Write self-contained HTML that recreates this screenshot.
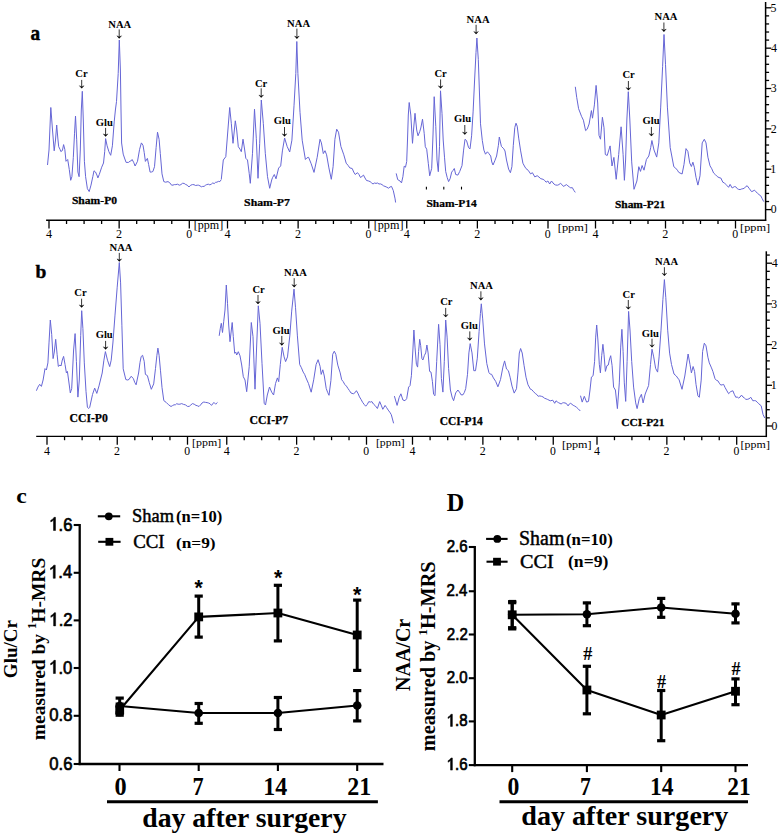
<!DOCTYPE html>
<html><head><meta charset="utf-8"><style>
html,body{margin:0;padding:0;background:#fff;}
svg{display:block;}
text{fill:#000;}
</style></head><body>
<svg width="784" height="839" viewBox="0 0 784 839">
<rect width="784" height="839" fill="#fff"/>
<polyline points="47.5,165.0 49.0,150.0 50.8,107.5 52.5,130.0 54.2,150.8 55.5,140.0 56.7,125.0 57.8,138.0 58.7,146.7 60.0,149.3 60.8,151.5 61.8,151.1 62.5,150.0 63.6,144.6 64.8,149.3 66.0,161.3 67.7,159.5 69.3,169.6 70.7,180.3 71.9,176.7 73.3,157.7 74.5,133.8 75.5,116.0 76.7,139.8 77.9,172.0 79.1,176.7 80.3,150.0 81.3,110.0 82.3,91.3 83.3,120.0 84.4,161.3 85.6,176.7 87.4,188.7 89.2,191.6 91.0,185.1 92.8,176.7 94.0,170.8 95.5,172.0 96.9,175.0 97.9,177.9 99.3,174.4 101.7,167.2 103.5,163.0 104.7,151.7 105.6,138.6 107.1,145.8 108.9,151.7 110.7,155.3 112.4,145.8 114.2,121.9 115.4,110.0 116.5,101.5 118.2,73.6 119.3,40.0 120.4,70.0 121.0,110.0 121.6,143.0 123.2,154.1 124.5,158.0 126.1,162.4 128.5,162.4 130.0,161.2 131.5,160.6 132.1,159.5 133.6,162.2 135.1,166.0 137.5,161.3 139.6,149.3 141.4,142.9 143.0,145.3 144.2,152.4 145.4,161.4 147.4,158.4 148.6,164.4 150.1,172.1 151.5,172.0 152.9,171.5 154.5,166.7 156.1,147.7 157.5,132.2 159.1,139.3 160.3,153.6 162.0,173.9 163.8,181.6 165.6,182.2 168.0,181.6 169.8,182.8 171.6,185.2 173.0,185.1 174.4,184.6 175.8,184.6 177.6,184.2 179.3,185.2 180.9,184.6 182.5,183.3 184.1,183.4 185.7,184.5 187.3,185.2 188.9,187.0 190.7,185.2 192.4,184.6 194.0,184.7 195.6,185.5 197.2,185.2 198.6,185.2 200.0,185.9 201.4,186.8 202.7,186.4 204.1,186.4 205.4,185.3 206.7,184.6 208.3,184.2 209.9,184.9 211.5,184.0 212.8,182.9 214.2,183.6 215.6,182.3 216.9,182.2 218.4,181.4 219.9,181.6 221.3,179.5" fill="none" stroke="#6666d6" stroke-width="1" stroke-linejoin="round"/>
<polyline points="221.3,179.2 223.3,160.0 225.8,156.7 227.5,135.0 229.7,107.5 231.3,123.3 233.0,143.3 235.3,120.8 236.7,130.0 238.3,146.7 240.0,149.2 241.3,151.7 243.0,139.2 244.7,150.0 245.8,158.3 247.5,160.0 249.2,173.3 250.3,183.3 252.5,153.3 254.5,109.2 256.3,138.3 258.0,178.3 259.7,143.3 261.3,100.0 263.3,123.3 265.3,153.3 267.5,176.7 269.7,188.3 271.7,180.0 272.5,177.7 274.3,174.5 276.0,178.8 278.6,168.1 280.7,165.9 282.4,150.9 284.6,138.0 287.2,146.6 289.7,152.0 291.9,140.2 294.0,105.8 295.8,73.6 296.8,41.5 297.9,73.6 300.0,112.3 302.2,140.2 305.4,159.5 307.0,157.8 308.6,157.3 311.2,163.8 314.0,172.4 317.2,157.3 320.0,139.3 321.4,142.9 323.3,153.6 325.0,150.7 326.6,154.8 328.9,167.9 331.3,179.3 333.1,166.7 334.9,139.3 336.7,129.2 338.5,132.2 340.9,146.5 343.8,154.8 346.2,163.2 348.0,165.3 349.8,167.9 352.2,168.5 353.7,172.0 355.2,174.5 357.5,172.7 359.0,174.6 360.5,177.5 362.0,176.4 363.5,175.1 365.0,178.0 366.5,180.5 368.3,180.9 370.1,181.6 371.6,182.9 373.0,184.0 374.5,183.0 376.0,183.4 377.5,183.0 379.0,184.0 380.5,183.9 382.0,184.6 383.5,185.8 385.0,186.4 386.8,187.2 388.5,188.2 390.0,187.0 391.5,186.4 393.3,190.6 395.1,198.9 395.6,202.5" fill="none" stroke="#6666d6" stroke-width="1" stroke-linejoin="round"/>
<polyline points="396.2,173.4 397.7,179.6 400.0,181.0 401.5,182.9 402.9,176.7 404.2,166.2 405.5,167.2 406.7,161.5 407.5,140.0 408.3,115.0 409.2,102.5 410.8,115.0 412.5,143.3 413.7,128.0 415.0,113.3 416.7,130.0 418.0,135.8 419.7,131.7 420.8,128.0 422.5,119.2 424.2,133.3 425.3,146.7 426.7,149.2 428.3,163.3 429.7,175.8 431.7,168.3 433.0,135.0 434.2,96.7 435.8,126.7 437.0,160.0 438.3,171.7 439.5,146.7 440.5,90.8 442.0,113.3 443.2,140.0 444.5,157.2 445.7,171.5 447.2,177.5 448.6,181.6 450.1,178.7 451.7,172.1 453.1,170.3 454.3,168.5 455.7,174.5 457.9,175.1 459.7,171.5 462.0,165.6 463.6,150.1 465.0,139.3 466.5,140.5 468.6,147.7 470.0,148.9 471.6,135.8 473.1,111.9 474.6,80.0 476.0,52.4 476.9,38.0 478.3,59.5 479.2,85.0 480.5,123.8 482.3,140.5 483.9,150.1 485.5,154.2 487.4,151.8 488.9,153.6 490.7,156.0 491.8,162.0 493.0,165.0 494.8,160.8 496.6,156.0 498.4,145.3 499.3,137.0 501.4,146.4 503.8,148.8 505.0,151.0 506.5,160.0 508.6,169.1 510.4,172.7 511.9,166.7 513.3,145.3 514.8,127.4 516.0,123.2 517.2,126.2 518.7,138.1 520.5,150.1 522.9,163.2 524.4,166.0 525.9,168.5 528.2,170.3 530.6,173.9 532.4,172.7 534.8,176.9 537.2,175.7 539.0,177.1 540.8,178.7 543.1,179.3 544.6,180.4 546.1,182.2 547.9,181.0 549.7,184.0 551.5,181.0 553.9,184.0 555.6,185.0 557.4,185.2 558.9,184.6 560.4,183.4 561.9,184.5 563.4,186.4 564.9,185.6 566.4,184.6 567.9,185.8 569.4,187.0 570.8,187.9 572.3,187.6 573.8,190.3 575.3,192.4" fill="none" stroke="#6666d6" stroke-width="1" stroke-linejoin="round"/>
<polyline points="575.3,86.8 576.7,97.3 578.6,108.7 581.5,116.3 583.4,120.2 585.6,130.6 587.2,129.2 589.1,124.0 591.4,110.6 592.5,118.2 594.4,104.9 596.1,85.4 597.7,103.0 599.0,135.4 600.5,139.2 602.4,117.3 604.0,127.8 605.3,154.5 607.2,155.5 610.1,145.9 612.0,166.0 613.9,157.4 616.2,179.3 618.7,154.5 621.1,126.8 623.1,154.5 624.4,180.3 625.6,160.0 626.9,119.0 628.3,91.7 629.8,119.0 631.7,161.9 634.0,189.3 636.9,181.0 638.8,166.7 640.5,171.4 642.1,165.5 644.0,170.2 646.4,159.5 648.8,156.0 650.7,147.6 651.9,140.5 654.0,150.0 656.7,157.1 658.8,142.9 660.7,107.1 662.6,66.7 664.0,34.5 665.5,64.3 667.4,107.1 670.2,147.6 673.8,166.7 675.6,168.1 677.4,170.2 678.7,172.3 680.0,173.0 682.1,174.0 684.0,164.4 686.0,148.6 687.9,151.5 689.7,162.9 691.4,166.5 692.9,162.2 694.3,167.2 696.0,177.3 697.9,185.1 700.0,175.8 702.2,142.9 704.3,139.3 706.0,142.9 707.9,157.2 710.0,165.8 711.8,168.8 713.6,173.0 715.4,174.6 717.2,176.5 719.0,177.6 720.8,178.0 722.9,182.3 724.3,182.8 725.8,184.4 727.2,185.8 728.6,187.3 730.1,184.4 732.2,188.0 734.4,186.6 735.8,186.8 737.3,188.7 738.7,189.4 740.1,189.6 741.5,189.0 742.9,188.7 744.3,188.3 745.8,186.5 747.2,185.8 749.4,188.7 751.5,191.6 753.0,191.1 754.4,190.1 755.8,191.7 757.3,193.0 759.0,194.6 760.8,195.9 762.2,198.7 763.7,201.6" fill="none" stroke="#6666d6" stroke-width="1" stroke-linejoin="round"/>
<polyline points="36.4,390.7 37.9,387.1 39.7,384.3 41.4,386.4 43.1,380.0 45.0,368.6 46.4,370.0 47.9,362.9 49.0,342.9 50.3,320.0 51.7,334.3 53.1,358.6 54.3,352.0 55.7,339.3 57.1,354.3 58.3,366.4 60.0,365.0 61.0,366.0 62.3,360.0 63.6,356.4 65.0,364.3 66.4,372.9 67.4,371.4 68.6,380.0 70.3,392.9 71.7,388.6 73.6,350.0 75.1,333.6 76.4,361.4 77.9,397.1 79.3,380.0 80.7,335.7 81.7,310.7 82.9,328.6 84.3,362.9 86.0,391.4 87.4,407.1 88.6,408.5 89.7,407.4 92.5,394.5 94.7,388.1 96.8,393.4 99.0,385.9 102.2,373.0 103.9,360.2 105.4,351.6 107.5,360.2 109.7,366.6 111.2,360.2 112.9,343.0 115.0,315.1 117.2,287.2 119.3,262.5 120.6,282.9 121.9,325.8 123.2,368.8 125.8,379.5 127.4,380.0 129.0,379.5 131.1,376.3 133.3,378.4 134.7,382.3 136.1,384.8 138.6,373.0 140.0,362.4 141.2,356.5 142.6,355.3 144.2,361.3 145.4,374.4 147.4,375.6 149.3,382.7 151.3,389.3 153.7,383.9 155.5,368.4 156.9,355.3 157.9,348.1 159.1,355.3 160.5,370.8 162.0,387.5 163.8,400.6 166.2,402.4 168.6,404.8 171.0,406.5 172.5,405.6 174.0,404.8 175.4,404.8 176.7,403.7 178.1,404.2 179.9,404.2 181.7,403.6 183.5,404.4 185.3,404.8 187.7,406.5 189.3,406.3 190.8,405.0 192.4,403.6 194.2,404.2 196.0,405.4 197.5,405.8 199.0,406.5 200.5,405.0 202.0,403.0 203.8,402.0 205.6,402.4 207.1,402.6 208.5,403.0 210.0,403.7 211.5,405.4 213.9,402.4 215.7,404.2 217.5,402.4" fill="none" stroke="#6666d6" stroke-width="1" stroke-linejoin="round"/>
<polyline points="219.2,335.8 220.3,328.3 221.3,323.3 222.5,332.5 223.7,321.7 225.0,310.0 226.3,285.0 227.5,303.3 228.7,325.0 230.0,341.7 232.2,322.5 233.3,336.7 234.7,353.3 235.7,352.0 236.7,355.0 238.3,351.7 240.0,355.8 241.7,365.0 243.3,376.7 245.0,380.0 246.7,391.7 249.2,366.7 251.3,322.5 253.0,336.7 255.0,389.2 256.7,345.0 258.3,305.8 260.0,323.3 262.0,363.3 264.2,403.3 265.5,405.0 267.3,395.0 269.5,387.0 271.7,392.2 273.6,395.0 275.5,383.6 277.4,377.9 278.7,381.7 280.3,364.5 282.2,347.3 284.1,356.9 285.6,361.6 287.5,356.9 289.8,335.9 291.7,311.1 294.0,289.1 295.5,307.3 297.4,335.9 299.7,364.5 301.4,367.7 303.2,372.1 304.6,374.3 306.0,377.9 308.5,383.6 311.2,392.2 313.7,379.8 316.1,364.5 318.1,359.7 320.1,366.4 321.2,374.4 322.8,369.8 324.3,376.0 326.2,388.4 327.6,392.3 329.0,395.3 330.9,380.6 332.7,354.3 334.3,351.2 335.8,354.3 337.8,365.1 340.2,372.9 341.7,379.8 343.2,381.6 344.8,384.5 346.4,386.1 347.9,388.4 349.4,390.5 351.0,393.0 353.3,393.8 354.9,392.8 356.4,390.7 357.9,393.2 359.5,396.9 361.1,399.5 362.6,402.3 364.1,404.3 365.7,406.2 367.2,404.5 368.8,401.6 370.4,402.1 371.9,401.6 373.4,404.0 375.0,405.4 377.4,408.5 379.7,401.6 381.2,405.1 382.8,409.3 385.1,405.4 386.6,407.6 388.2,410.1 389.8,412.2 391.3,414.7 393.6,423.3" fill="none" stroke="#6666d6" stroke-width="1" stroke-linejoin="round"/>
<polyline points="394.4,396.1 397.1,405.4 399.1,397.7 400.9,393.8 402.9,400.0 405.0,400.7 406.7,398.6 408.6,387.1 410.0,385.7 411.4,375.7 412.9,350.0 413.9,330.0 415.0,347.1 416.4,364.3 417.6,367.1 418.6,351.4 419.7,339.3 420.7,345.7 421.9,358.6 422.9,360.0 424.3,355.7 425.7,352.9 426.9,345.0 428.1,352.9 429.6,371.4 431.0,372.1 432.4,381.4 433.6,394.3 435.0,395.7 436.7,361.4 438.6,324.3 440.0,344.3 441.4,378.6 442.9,392.1 444.3,361.4 445.7,320.0 447.1,337.1 448.6,368.6 450.4,390.0 452.1,397.1 453.6,400.7 455.7,392.9 457.9,390.0 460.0,392.9 461.0,394.8 463.0,394.8 464.4,392.3 465.7,388.6 467.5,374.3 468.9,352.9 470.2,343.6 472.0,352.9 473.8,370.7 475.5,370.7 477.3,358.2 479.1,331.4 480.4,313.6 481.3,303.8 482.7,318.9 484.5,343.9 486.8,363.6 488.9,372.5 490.2,374.1 491.6,374.3 493.4,377.9 495.7,381.4 497.9,386.8 500.5,379.6 502.9,367.1 504.6,360.9 506.5,369.0 508.4,370.7 510.1,377.2 512.0,386.1 514.2,393.1 516.5,388.7 518.0,372.1 519.3,353.0 520.6,348.5 522.2,353.0 524.1,365.7 526.0,377.2 528.0,384.8 530.5,389.3 531.8,389.7 533.1,391.2 535.6,393.8 536.9,394.6 538.2,396.3 539.8,395.9 541.4,396.3 543.0,396.9 544.5,398.2 546.1,398.8 547.7,399.5 550.3,400.8 552.8,400.2 554.7,403.3 556.0,400.8 557.3,401.9 558.6,402.7 561.1,404.0 562.4,403.0 563.7,402.7 566.2,403.3 568.1,405.9 569.4,403.9 570.7,403.3 573.2,405.3 574.8,406.1 576.4,407.2 578.3,408.9 580.3,411.0" fill="none" stroke="#6666d6" stroke-width="1" stroke-linejoin="round"/>
<polyline points="580.5,395.7 582.2,402.1 584.3,396.3 586.6,402.1 588.5,401.4 590.0,390.0 591.4,377.1 593.1,375.7 594.6,361.4 595.7,337.1 596.7,325.0 597.9,340.0 599.3,364.3 600.4,372.9 601.7,355.7 602.9,344.3 604.0,354.3 605.4,371.4 606.9,365.7 608.3,365.0 609.3,360.0 610.7,355.7 612.1,365.7 613.6,387.1 615.4,390.0 617.4,408.6 619.3,382.9 620.7,347.1 621.9,329.3 623.1,351.4 624.3,382.9 625.7,401.4 627.1,361.4 628.6,311.4 630.0,330.0 631.7,361.4 633.6,387.1 635.7,402.9 637.1,408.6 639.3,398.6 641.4,394.3 643.1,402.9 645.2,394.0 648.6,385.5 650.5,364.5 652.0,349.2 653.7,356.9 655.6,368.3 657.6,372.1 659.1,356.9 661.0,330.2 662.9,299.6 664.4,279.6 665.8,297.7 667.7,330.2 669.6,353.1 671.5,364.5 674.0,374.0 676.3,376.0 677.7,378.0 679.1,379.8 682.0,389.3 684.8,376.0 688.1,354.0 690.0,364.5 691.4,372.9 693.1,366.5 694.6,371.5 696.0,384.4 697.9,395.8 699.3,397.3 701.2,380.1 702.6,351.5 704.3,343.2 706.0,345.8 707.9,357.2 709.3,362.9 711.5,367.9 712.9,371.5 715.0,378.7 716.5,380.4 717.9,380.8 719.3,383.2 720.8,385.1 722.2,384.8 723.6,384.4 725.0,387.4 726.5,390.1 728.6,393.7 730.8,391.5 732.9,390.8 734.3,394.3 735.8,397.3 737.2,397.0 738.6,398.0 740.0,397.1 741.5,395.1 743.0,397.0 744.4,398.0 745.8,399.3 747.2,399.4 749.0,398.8 750.8,397.3 752.9,400.8 754.3,400.6 755.8,400.8 757.2,402.1 758.7,403.7 761.2,405.8 763.0,414.4 764.7,418.0" fill="none" stroke="#6666d6" stroke-width="1" stroke-linejoin="round"/>
<line x1="46.1" y1="220.2" x2="766.2" y2="220.2" stroke="#000" stroke-width="1.4"/>
<line x1="49.00" y1="220.2" x2="49.00" y2="228.5" stroke="#000" stroke-width="1.3"/>
<line x1="66.54" y1="220.2" x2="66.54" y2="224.0" stroke="#000" stroke-width="1.3"/>
<line x1="84.08" y1="220.2" x2="84.08" y2="224.0" stroke="#000" stroke-width="1.3"/>
<line x1="101.61" y1="220.2" x2="101.61" y2="224.0" stroke="#000" stroke-width="1.3"/>
<line x1="119.15" y1="220.2" x2="119.15" y2="228.5" stroke="#000" stroke-width="1.3"/>
<line x1="136.69" y1="220.2" x2="136.69" y2="224.0" stroke="#000" stroke-width="1.3"/>
<line x1="154.23" y1="220.2" x2="154.23" y2="224.0" stroke="#000" stroke-width="1.3"/>
<line x1="171.76" y1="220.2" x2="171.76" y2="224.0" stroke="#000" stroke-width="1.3"/>
<line x1="189.30" y1="220.2" x2="189.30" y2="228.5" stroke="#000" stroke-width="1.3"/>
<text x="46.06" y="238.30" font-family="Liberation Serif" font-weight="normal" font-size="12.17" >4</text>
<text x="115.91" y="238.30" font-family="Liberation Serif" font-weight="normal" font-size="12.08" >2</text>
<text x="186.16" y="238.18" font-family="Liberation Serif" font-weight="normal" font-size="11.85" >0</text>
<text transform="translate(193.69 229.44) scale(1.043 1)" font-family="Liberation Serif" font-weight="normal" font-size="11.57" >[ppm]</text>
<line x1="227.50" y1="220.2" x2="227.50" y2="228.5" stroke="#000" stroke-width="1.3"/>
<line x1="245.16" y1="220.2" x2="245.16" y2="224.0" stroke="#000" stroke-width="1.3"/>
<line x1="262.81" y1="220.2" x2="262.81" y2="224.0" stroke="#000" stroke-width="1.3"/>
<line x1="280.47" y1="220.2" x2="280.47" y2="224.0" stroke="#000" stroke-width="1.3"/>
<line x1="298.12" y1="220.2" x2="298.12" y2="228.5" stroke="#000" stroke-width="1.3"/>
<line x1="315.78" y1="220.2" x2="315.78" y2="224.0" stroke="#000" stroke-width="1.3"/>
<line x1="333.44" y1="220.2" x2="333.44" y2="224.0" stroke="#000" stroke-width="1.3"/>
<line x1="351.09" y1="220.2" x2="351.09" y2="224.0" stroke="#000" stroke-width="1.3"/>
<line x1="368.75" y1="220.2" x2="368.75" y2="228.5" stroke="#000" stroke-width="1.3"/>
<text x="224.56" y="238.30" font-family="Liberation Serif" font-weight="normal" font-size="12.17" >4</text>
<text x="294.88" y="238.30" font-family="Liberation Serif" font-weight="normal" font-size="12.08" >2</text>
<text x="365.61" y="238.18" font-family="Liberation Serif" font-weight="normal" font-size="11.85" >0</text>
<text transform="translate(373.68 229.44) scale(1.054 1)" font-family="Liberation Serif" font-weight="normal" font-size="11.57" >[ppm]</text>
<line x1="406.75" y1="220.2" x2="406.75" y2="228.5" stroke="#000" stroke-width="1.3"/>
<line x1="424.41" y1="220.2" x2="424.41" y2="224.0" stroke="#000" stroke-width="1.3"/>
<line x1="442.06" y1="220.2" x2="442.06" y2="224.0" stroke="#000" stroke-width="1.3"/>
<line x1="459.72" y1="220.2" x2="459.72" y2="224.0" stroke="#000" stroke-width="1.3"/>
<line x1="477.38" y1="220.2" x2="477.38" y2="228.5" stroke="#000" stroke-width="1.3"/>
<line x1="495.03" y1="220.2" x2="495.03" y2="224.0" stroke="#000" stroke-width="1.3"/>
<line x1="512.69" y1="220.2" x2="512.69" y2="224.0" stroke="#000" stroke-width="1.3"/>
<line x1="530.34" y1="220.2" x2="530.34" y2="224.0" stroke="#000" stroke-width="1.3"/>
<line x1="548.00" y1="220.2" x2="548.00" y2="228.5" stroke="#000" stroke-width="1.3"/>
<text x="403.81" y="238.30" font-family="Liberation Serif" font-weight="normal" font-size="12.17" >4</text>
<text x="474.13" y="238.30" font-family="Liberation Serif" font-weight="normal" font-size="12.08" >2</text>
<text x="544.86" y="238.18" font-family="Liberation Serif" font-weight="normal" font-size="11.85" >0</text>
<text transform="translate(557.77 231.41) scale(1.101 1)" font-family="Liberation Serif" font-weight="normal" font-size="11.24" >[ppm]</text>
<line x1="595.50" y1="220.2" x2="595.50" y2="228.5" stroke="#000" stroke-width="1.3"/>
<line x1="613.00" y1="220.2" x2="613.00" y2="224.0" stroke="#000" stroke-width="1.3"/>
<line x1="630.50" y1="220.2" x2="630.50" y2="224.0" stroke="#000" stroke-width="1.3"/>
<line x1="648.00" y1="220.2" x2="648.00" y2="224.0" stroke="#000" stroke-width="1.3"/>
<line x1="665.50" y1="220.2" x2="665.50" y2="228.5" stroke="#000" stroke-width="1.3"/>
<line x1="683.00" y1="220.2" x2="683.00" y2="224.0" stroke="#000" stroke-width="1.3"/>
<line x1="700.50" y1="220.2" x2="700.50" y2="224.0" stroke="#000" stroke-width="1.3"/>
<line x1="718.00" y1="220.2" x2="718.00" y2="224.0" stroke="#000" stroke-width="1.3"/>
<line x1="735.50" y1="220.2" x2="735.50" y2="228.5" stroke="#000" stroke-width="1.3"/>
<text x="592.56" y="238.30" font-family="Liberation Serif" font-weight="normal" font-size="12.17" >4</text>
<text x="662.26" y="238.30" font-family="Liberation Serif" font-weight="normal" font-size="12.08" >2</text>
<text x="732.36" y="238.18" font-family="Liberation Serif" font-weight="normal" font-size="11.85" >0</text>
<text transform="translate(740.08 231.41) scale(1.097 1)" font-family="Liberation Serif" font-weight="normal" font-size="11.24" >[ppm]</text>
<line x1="36.2" y1="436.4" x2="766.6" y2="436.4" stroke="#000" stroke-width="1.4"/>
<line x1="47.00" y1="436.4" x2="47.00" y2="444.7" stroke="#000" stroke-width="1.3"/>
<line x1="64.56" y1="436.4" x2="64.56" y2="440.2" stroke="#000" stroke-width="1.3"/>
<line x1="82.12" y1="436.4" x2="82.12" y2="440.2" stroke="#000" stroke-width="1.3"/>
<line x1="99.69" y1="436.4" x2="99.69" y2="440.2" stroke="#000" stroke-width="1.3"/>
<line x1="117.25" y1="436.4" x2="117.25" y2="444.7" stroke="#000" stroke-width="1.3"/>
<line x1="134.81" y1="436.4" x2="134.81" y2="440.2" stroke="#000" stroke-width="1.3"/>
<line x1="152.38" y1="436.4" x2="152.38" y2="440.2" stroke="#000" stroke-width="1.3"/>
<line x1="169.94" y1="436.4" x2="169.94" y2="440.2" stroke="#000" stroke-width="1.3"/>
<line x1="187.50" y1="436.4" x2="187.50" y2="444.7" stroke="#000" stroke-width="1.3"/>
<text x="44.06" y="454.80" font-family="Liberation Serif" font-weight="normal" font-size="12.02" >4</text>
<text x="114.01" y="454.80" font-family="Liberation Serif" font-weight="normal" font-size="11.92" >2</text>
<text x="184.36" y="454.68" font-family="Liberation Serif" font-weight="normal" font-size="11.70" >0</text>
<text transform="translate(192.10 445.91) scale(1.062 1)" font-family="Liberation Serif" font-weight="normal" font-size="11.24" >[ppm]</text>
<line x1="226.75" y1="436.4" x2="226.75" y2="444.7" stroke="#000" stroke-width="1.3"/>
<line x1="244.22" y1="436.4" x2="244.22" y2="440.2" stroke="#000" stroke-width="1.3"/>
<line x1="261.69" y1="436.4" x2="261.69" y2="440.2" stroke="#000" stroke-width="1.3"/>
<line x1="279.16" y1="436.4" x2="279.16" y2="440.2" stroke="#000" stroke-width="1.3"/>
<line x1="296.62" y1="436.4" x2="296.62" y2="444.7" stroke="#000" stroke-width="1.3"/>
<line x1="314.09" y1="436.4" x2="314.09" y2="440.2" stroke="#000" stroke-width="1.3"/>
<line x1="331.56" y1="436.4" x2="331.56" y2="440.2" stroke="#000" stroke-width="1.3"/>
<line x1="349.03" y1="436.4" x2="349.03" y2="440.2" stroke="#000" stroke-width="1.3"/>
<line x1="366.50" y1="436.4" x2="366.50" y2="444.7" stroke="#000" stroke-width="1.3"/>
<text x="223.81" y="454.80" font-family="Liberation Serif" font-weight="normal" font-size="12.02" >4</text>
<text x="293.39" y="454.80" font-family="Liberation Serif" font-weight="normal" font-size="11.92" >2</text>
<text x="363.36" y="454.68" font-family="Liberation Serif" font-weight="normal" font-size="11.70" >0</text>
<text transform="translate(375.91 445.91) scale(1.051 1)" font-family="Liberation Serif" font-weight="normal" font-size="11.24" >[ppm]</text>
<line x1="412.50" y1="436.4" x2="412.50" y2="444.7" stroke="#000" stroke-width="1.3"/>
<line x1="430.09" y1="436.4" x2="430.09" y2="440.2" stroke="#000" stroke-width="1.3"/>
<line x1="447.69" y1="436.4" x2="447.69" y2="440.2" stroke="#000" stroke-width="1.3"/>
<line x1="465.28" y1="436.4" x2="465.28" y2="440.2" stroke="#000" stroke-width="1.3"/>
<line x1="482.88" y1="436.4" x2="482.88" y2="444.7" stroke="#000" stroke-width="1.3"/>
<line x1="500.47" y1="436.4" x2="500.47" y2="440.2" stroke="#000" stroke-width="1.3"/>
<line x1="518.06" y1="436.4" x2="518.06" y2="440.2" stroke="#000" stroke-width="1.3"/>
<line x1="535.66" y1="436.4" x2="535.66" y2="440.2" stroke="#000" stroke-width="1.3"/>
<line x1="553.25" y1="436.4" x2="553.25" y2="444.7" stroke="#000" stroke-width="1.3"/>
<text x="409.56" y="454.80" font-family="Liberation Serif" font-weight="normal" font-size="12.02" >4</text>
<text x="479.64" y="454.80" font-family="Liberation Serif" font-weight="normal" font-size="11.92" >2</text>
<text x="550.11" y="454.68" font-family="Liberation Serif" font-weight="normal" font-size="11.70" >0</text>
<text transform="translate(561.88 447.51) scale(1.085 1)" font-family="Liberation Serif" font-weight="normal" font-size="11.24" >[ppm]</text>
<line x1="597.00" y1="436.4" x2="597.00" y2="444.7" stroke="#000" stroke-width="1.3"/>
<line x1="614.46" y1="436.4" x2="614.46" y2="440.2" stroke="#000" stroke-width="1.3"/>
<line x1="631.92" y1="436.4" x2="631.92" y2="440.2" stroke="#000" stroke-width="1.3"/>
<line x1="649.39" y1="436.4" x2="649.39" y2="440.2" stroke="#000" stroke-width="1.3"/>
<line x1="666.85" y1="436.4" x2="666.85" y2="444.7" stroke="#000" stroke-width="1.3"/>
<line x1="684.31" y1="436.4" x2="684.31" y2="440.2" stroke="#000" stroke-width="1.3"/>
<line x1="701.78" y1="436.4" x2="701.78" y2="440.2" stroke="#000" stroke-width="1.3"/>
<line x1="719.24" y1="436.4" x2="719.24" y2="440.2" stroke="#000" stroke-width="1.3"/>
<line x1="736.70" y1="436.4" x2="736.70" y2="444.7" stroke="#000" stroke-width="1.3"/>
<text x="594.06" y="454.80" font-family="Liberation Serif" font-weight="normal" font-size="12.02" >4</text>
<text x="663.61" y="454.80" font-family="Liberation Serif" font-weight="normal" font-size="11.92" >2</text>
<text x="733.56" y="454.68" font-family="Liberation Serif" font-weight="normal" font-size="11.70" >0</text>
<text transform="translate(740.60 447.81) scale(1.066 1)" font-family="Liberation Serif" font-weight="normal" font-size="11.24" >[ppm]</text>
<line x1="765.6" y1="2.0" x2="765.6" y2="220.9" stroke="#000" stroke-width="1.5"/>
<line x1="765.6" y1="209.60" x2="771.3000000000001" y2="209.60" stroke="#000" stroke-width="1.3"/>
<text x="770.76" y="213.38" font-family="Liberation Serif" font-weight="normal" font-size="11.70" >0</text>
<line x1="765.6" y1="201.53" x2="769.1" y2="201.53" stroke="#000" stroke-width="1.3"/>
<line x1="765.6" y1="193.46" x2="769.1" y2="193.46" stroke="#000" stroke-width="1.3"/>
<line x1="765.6" y1="185.38" x2="769.1" y2="185.38" stroke="#000" stroke-width="1.3"/>
<line x1="765.6" y1="177.31" x2="769.1" y2="177.31" stroke="#000" stroke-width="1.3"/>
<line x1="765.6" y1="169.24" x2="771.3000000000001" y2="169.24" stroke="#000" stroke-width="1.3"/>
<text x="770.15" y="173.14" font-family="Liberation Serif" font-weight="normal" font-size="11.97" >1</text>
<line x1="765.6" y1="161.17" x2="769.1" y2="161.17" stroke="#000" stroke-width="1.3"/>
<line x1="765.6" y1="153.10" x2="769.1" y2="153.10" stroke="#000" stroke-width="1.3"/>
<line x1="765.6" y1="145.02" x2="769.1" y2="145.02" stroke="#000" stroke-width="1.3"/>
<line x1="765.6" y1="136.95" x2="769.1" y2="136.95" stroke="#000" stroke-width="1.3"/>
<line x1="765.6" y1="128.88" x2="771.3000000000001" y2="128.88" stroke="#000" stroke-width="1.3"/>
<text x="770.66" y="132.78" font-family="Liberation Serif" font-weight="normal" font-size="11.92" >2</text>
<line x1="765.6" y1="120.81" x2="769.1" y2="120.81" stroke="#000" stroke-width="1.3"/>
<line x1="765.6" y1="112.74" x2="769.1" y2="112.74" stroke="#000" stroke-width="1.3"/>
<line x1="765.6" y1="104.66" x2="769.1" y2="104.66" stroke="#000" stroke-width="1.3"/>
<line x1="765.6" y1="96.59" x2="769.1" y2="96.59" stroke="#000" stroke-width="1.3"/>
<line x1="765.6" y1="88.52" x2="771.3000000000001" y2="88.52" stroke="#000" stroke-width="1.3"/>
<text x="770.64" y="92.30" font-family="Liberation Serif" font-weight="normal" font-size="11.75" >3</text>
<line x1="765.6" y1="80.45" x2="769.1" y2="80.45" stroke="#000" stroke-width="1.3"/>
<line x1="765.6" y1="72.38" x2="769.1" y2="72.38" stroke="#000" stroke-width="1.3"/>
<line x1="765.6" y1="64.30" x2="769.1" y2="64.30" stroke="#000" stroke-width="1.3"/>
<line x1="765.6" y1="56.23" x2="769.1" y2="56.23" stroke="#000" stroke-width="1.3"/>
<line x1="765.6" y1="48.16" x2="771.3000000000001" y2="48.16" stroke="#000" stroke-width="1.3"/>
<text x="770.96" y="52.06" font-family="Liberation Serif" font-weight="normal" font-size="12.02" >4</text>
<line x1="765.6" y1="40.09" x2="769.1" y2="40.09" stroke="#000" stroke-width="1.3"/>
<line x1="765.6" y1="32.02" x2="769.1" y2="32.02" stroke="#000" stroke-width="1.3"/>
<line x1="765.6" y1="23.94" x2="769.1" y2="23.94" stroke="#000" stroke-width="1.3"/>
<line x1="765.6" y1="15.87" x2="769.1" y2="15.87" stroke="#000" stroke-width="1.3"/>
<line x1="765.6" y1="7.80" x2="771.3000000000001" y2="7.80" stroke="#000" stroke-width="1.3"/>
<text x="770.52" y="11.58" font-family="Liberation Serif" font-weight="normal" font-size="11.88" >5</text>
<line x1="766.3" y1="251.3" x2="766.3" y2="437.1" stroke="#000" stroke-width="1.5"/>
<line x1="766.3" y1="426.00" x2="772.0" y2="426.00" stroke="#000" stroke-width="1.3"/>
<text x="771.46" y="429.78" font-family="Liberation Serif" font-weight="normal" font-size="11.70" >0</text>
<line x1="766.3" y1="417.86" x2="769.8" y2="417.86" stroke="#000" stroke-width="1.3"/>
<line x1="766.3" y1="409.72" x2="769.8" y2="409.72" stroke="#000" stroke-width="1.3"/>
<line x1="766.3" y1="401.58" x2="769.8" y2="401.58" stroke="#000" stroke-width="1.3"/>
<line x1="766.3" y1="393.44" x2="769.8" y2="393.44" stroke="#000" stroke-width="1.3"/>
<line x1="766.3" y1="385.30" x2="772.0" y2="385.30" stroke="#000" stroke-width="1.3"/>
<text x="770.85" y="389.20" font-family="Liberation Serif" font-weight="normal" font-size="11.97" >1</text>
<line x1="766.3" y1="377.16" x2="769.8" y2="377.16" stroke="#000" stroke-width="1.3"/>
<line x1="766.3" y1="369.02" x2="769.8" y2="369.02" stroke="#000" stroke-width="1.3"/>
<line x1="766.3" y1="360.88" x2="769.8" y2="360.88" stroke="#000" stroke-width="1.3"/>
<line x1="766.3" y1="352.74" x2="769.8" y2="352.74" stroke="#000" stroke-width="1.3"/>
<line x1="766.3" y1="344.60" x2="772.0" y2="344.60" stroke="#000" stroke-width="1.3"/>
<text x="771.36" y="348.50" font-family="Liberation Serif" font-weight="normal" font-size="11.92" >2</text>
<line x1="766.3" y1="336.46" x2="769.8" y2="336.46" stroke="#000" stroke-width="1.3"/>
<line x1="766.3" y1="328.32" x2="769.8" y2="328.32" stroke="#000" stroke-width="1.3"/>
<line x1="766.3" y1="320.18" x2="769.8" y2="320.18" stroke="#000" stroke-width="1.3"/>
<line x1="766.3" y1="312.04" x2="769.8" y2="312.04" stroke="#000" stroke-width="1.3"/>
<line x1="766.3" y1="303.90" x2="772.0" y2="303.90" stroke="#000" stroke-width="1.3"/>
<text x="771.34" y="307.68" font-family="Liberation Serif" font-weight="normal" font-size="11.75" >3</text>
<line x1="766.3" y1="295.76" x2="769.8" y2="295.76" stroke="#000" stroke-width="1.3"/>
<line x1="766.3" y1="287.62" x2="769.8" y2="287.62" stroke="#000" stroke-width="1.3"/>
<line x1="766.3" y1="279.48" x2="769.8" y2="279.48" stroke="#000" stroke-width="1.3"/>
<line x1="766.3" y1="271.34" x2="769.8" y2="271.34" stroke="#000" stroke-width="1.3"/>
<line x1="766.3" y1="263.20" x2="772.0" y2="263.20" stroke="#000" stroke-width="1.3"/>
<text x="771.66" y="267.10" font-family="Liberation Serif" font-weight="normal" font-size="12.02" >4</text>
<line x1="766.3" y1="255.06" x2="769.8" y2="255.06" stroke="#000" stroke-width="1.3"/>
<line x1="426.4" y1="186.7" x2="426.4" y2="189.5" stroke="#000" stroke-width="1.1"/>
<line x1="443.8" y1="186.7" x2="443.8" y2="189.5" stroke="#000" stroke-width="1.1"/>
<line x1="461.5" y1="186.7" x2="461.5" y2="189.5" stroke="#000" stroke-width="1.1"/>
<text x="108.29" y="28.20" font-family="Liberation Serif" font-weight="bold" font-size="10.60" >NAA</text>
<line x1="119.2" y1="29.4" x2="119.2" y2="37.9" stroke="#000" stroke-width="0.8"/>
<polygon points="116.9,35.8 119.2,37.0 121.5,35.8 119.2,38.4" fill="#000" stroke="#000" stroke-width="0.4" stroke-linejoin="round"/>
<text x="75.27" y="77.49" font-family="Liberation Serif" font-weight="bold" font-size="10.60" >Cr</text>
<line x1="81.7" y1="79.9" x2="81.7" y2="87.8" stroke="#000" stroke-width="0.8"/>
<polygon points="79.4,85.7 81.7,86.89999999999999 84.0,85.7 81.7,88.3" fill="#000" stroke="#000" stroke-width="0.4" stroke-linejoin="round"/>
<text x="95.87" y="125.77" font-family="Liberation Serif" font-weight="bold" font-size="10.60" >Glu</text>
<line x1="105.6" y1="127.9" x2="105.6" y2="136.0" stroke="#000" stroke-width="0.8"/>
<polygon points="103.3,133.9 105.6,135.1 107.89999999999999,133.9 105.6,136.5" fill="#000" stroke="#000" stroke-width="0.4" stroke-linejoin="round"/>
<text x="287.09" y="26.60" font-family="Liberation Serif" font-weight="bold" font-size="10.60" >NAA</text>
<line x1="296.9" y1="28.6" x2="296.9" y2="38.2" stroke="#000" stroke-width="0.8"/>
<polygon points="294.59999999999997,36.1 296.9,37.300000000000004 299.2,36.1 296.9,38.7" fill="#000" stroke="#000" stroke-width="0.4" stroke-linejoin="round"/>
<text x="254.97" y="86.79" font-family="Liberation Serif" font-weight="bold" font-size="10.60" >Cr</text>
<line x1="261.2" y1="88.3" x2="261.2" y2="97.1" stroke="#000" stroke-width="0.8"/>
<polygon points="258.9,95.0 261.2,96.19999999999999 263.5,95.0 261.2,97.6" fill="#000" stroke="#000" stroke-width="0.4" stroke-linejoin="round"/>
<text x="273.87" y="124.07" font-family="Liberation Serif" font-weight="bold" font-size="10.60" >Glu</text>
<line x1="284.5" y1="127.0" x2="284.5" y2="135.9" stroke="#000" stroke-width="0.8"/>
<polygon points="282.2,133.8 284.5,135.0 286.8,133.8 284.5,136.4" fill="#000" stroke="#000" stroke-width="0.4" stroke-linejoin="round"/>
<text x="466.59" y="22.60" font-family="Liberation Serif" font-weight="bold" font-size="10.60" >NAA</text>
<line x1="476.1" y1="24.8" x2="476.1" y2="33.6" stroke="#000" stroke-width="0.8"/>
<polygon points="473.8,31.5 476.1,32.7 478.40000000000003,31.5 476.1,34.1" fill="#000" stroke="#000" stroke-width="0.4" stroke-linejoin="round"/>
<text x="434.47" y="77.49" font-family="Liberation Serif" font-weight="bold" font-size="10.60" >Cr</text>
<line x1="440.6" y1="79.4" x2="440.6" y2="87.9" stroke="#000" stroke-width="0.8"/>
<polygon points="438.3,85.80000000000001 440.6,87.0 442.90000000000003,85.80000000000001 440.6,88.4" fill="#000" stroke="#000" stroke-width="0.4" stroke-linejoin="round"/>
<text x="453.97" y="122.07" font-family="Liberation Serif" font-weight="bold" font-size="10.60" >Glu</text>
<line x1="464.8" y1="125.0" x2="464.8" y2="134.1" stroke="#000" stroke-width="0.8"/>
<polygon points="462.5,132.0 464.8,133.2 467.1,132.0 464.8,134.6" fill="#000" stroke="#000" stroke-width="0.4" stroke-linejoin="round"/>
<text x="654.49" y="20.10" font-family="Liberation Serif" font-weight="bold" font-size="10.60" >NAA</text>
<line x1="663.9" y1="22.5" x2="663.9" y2="31.2" stroke="#000" stroke-width="0.8"/>
<polygon points="661.6,29.099999999999998 663.9,30.3 666.1999999999999,29.099999999999998 663.9,31.7" fill="#000" stroke="#000" stroke-width="0.4" stroke-linejoin="round"/>
<text x="622.47" y="78.39" font-family="Liberation Serif" font-weight="bold" font-size="10.60" >Cr</text>
<line x1="628.4" y1="81.0" x2="628.4" y2="89.7" stroke="#000" stroke-width="0.8"/>
<polygon points="626.1,87.60000000000001 628.4,88.8 630.6999999999999,87.60000000000001 628.4,90.2" fill="#000" stroke="#000" stroke-width="0.4" stroke-linejoin="round"/>
<text x="642.57" y="124.47" font-family="Liberation Serif" font-weight="bold" font-size="10.60" >Glu</text>
<line x1="651.4" y1="126.9" x2="651.4" y2="135.6" stroke="#000" stroke-width="0.8"/>
<polygon points="649.1,133.5 651.4,134.7 653.6999999999999,133.5 651.4,136.1" fill="#000" stroke="#000" stroke-width="0.4" stroke-linejoin="round"/>
<text x="109.49" y="251.00" font-family="Liberation Serif" font-weight="bold" font-size="10.60" >NAA</text>
<line x1="119.3" y1="252.9" x2="119.3" y2="261.0" stroke="#000" stroke-width="0.8"/>
<polygon points="117.0,258.9 119.3,260.1 121.6,258.9 119.3,261.5" fill="#000" stroke="#000" stroke-width="0.4" stroke-linejoin="round"/>
<text x="74.37" y="296.49" font-family="Liberation Serif" font-weight="bold" font-size="10.60" >Cr</text>
<line x1="81.6" y1="298.7" x2="81.6" y2="307.0" stroke="#000" stroke-width="0.8"/>
<polygon points="79.3,304.9 81.6,306.1 83.89999999999999,304.9 81.6,307.5" fill="#000" stroke="#000" stroke-width="0.4" stroke-linejoin="round"/>
<text x="95.67" y="337.77" font-family="Liberation Serif" font-weight="bold" font-size="10.60" >Glu</text>
<line x1="105.6" y1="340.9" x2="105.6" y2="348.9" stroke="#000" stroke-width="0.8"/>
<polygon points="103.3,346.79999999999995 105.6,348.0 107.89999999999999,346.79999999999995 105.6,349.4" fill="#000" stroke="#000" stroke-width="0.4" stroke-linejoin="round"/>
<text x="283.89" y="276.00" font-family="Liberation Serif" font-weight="bold" font-size="10.60" >NAA</text>
<line x1="294.2" y1="278.2" x2="294.2" y2="286.7" stroke="#000" stroke-width="0.8"/>
<polygon points="291.9,284.59999999999997 294.2,285.8 296.5,284.59999999999997 294.2,287.2" fill="#000" stroke="#000" stroke-width="0.4" stroke-linejoin="round"/>
<text x="252.47" y="292.59" font-family="Liberation Serif" font-weight="bold" font-size="10.60" >Cr</text>
<line x1="258.0" y1="295.0" x2="258.0" y2="303.5" stroke="#000" stroke-width="0.8"/>
<polygon points="255.7,301.4 258.0,302.6 260.3,301.4 258.0,304.0" fill="#000" stroke="#000" stroke-width="0.4" stroke-linejoin="round"/>
<text x="272.47" y="333.87" font-family="Liberation Serif" font-weight="bold" font-size="10.60" >Glu</text>
<line x1="281.8" y1="335.9" x2="281.8" y2="344.9" stroke="#000" stroke-width="0.8"/>
<polygon points="279.5,342.79999999999995 281.8,344.0 284.1,342.79999999999995 281.8,345.4" fill="#000" stroke="#000" stroke-width="0.4" stroke-linejoin="round"/>
<text x="469.99" y="289.00" font-family="Liberation Serif" font-weight="bold" font-size="10.60" >NAA</text>
<line x1="480.9" y1="291.3" x2="480.9" y2="299.7" stroke="#000" stroke-width="0.8"/>
<polygon points="478.59999999999997,297.59999999999997 480.9,298.8 483.2,297.59999999999997 480.9,300.2" fill="#000" stroke="#000" stroke-width="0.4" stroke-linejoin="round"/>
<text x="440.17" y="304.89" font-family="Liberation Serif" font-weight="bold" font-size="10.60" >Cr</text>
<line x1="445.7" y1="307.9" x2="445.7" y2="316.6" stroke="#000" stroke-width="0.8"/>
<polygon points="443.4,314.5 445.7,315.70000000000005 448.0,314.5 445.7,317.1" fill="#000" stroke="#000" stroke-width="0.4" stroke-linejoin="round"/>
<text x="460.77" y="328.67" font-family="Liberation Serif" font-weight="bold" font-size="10.60" >Glu</text>
<line x1="469.8" y1="331.4" x2="469.8" y2="339.9" stroke="#000" stroke-width="0.8"/>
<polygon points="467.5,337.79999999999995 469.8,339.0 472.1,337.79999999999995 469.8,340.4" fill="#000" stroke="#000" stroke-width="0.4" stroke-linejoin="round"/>
<text x="655.09" y="264.90" font-family="Liberation Serif" font-weight="bold" font-size="10.60" >NAA</text>
<line x1="664.4" y1="267.2" x2="664.4" y2="275.3" stroke="#000" stroke-width="0.8"/>
<polygon points="662.1,273.2 664.4,274.40000000000003 666.6999999999999,273.2 664.4,275.8" fill="#000" stroke="#000" stroke-width="0.4" stroke-linejoin="round"/>
<text x="622.57" y="297.89" font-family="Liberation Serif" font-weight="bold" font-size="10.60" >Cr</text>
<line x1="628.3" y1="300.0" x2="628.3" y2="308.8" stroke="#000" stroke-width="0.8"/>
<polygon points="626.0,306.7 628.3,307.90000000000003 630.5999999999999,306.7 628.3,309.3" fill="#000" stroke="#000" stroke-width="0.4" stroke-linejoin="round"/>
<text x="641.77" y="336.67" font-family="Liberation Serif" font-weight="bold" font-size="10.60" >Glu</text>
<line x1="652.0" y1="338.7" x2="652.0" y2="346.8" stroke="#000" stroke-width="0.8"/>
<polygon points="649.7,344.7 652.0,345.90000000000003 654.3,344.7 652.0,347.3" fill="#000" stroke="#000" stroke-width="0.4" stroke-linejoin="round"/>
<text transform="translate(71.89 203.69) scale(1.036 1)" font-family="Liberation Serif" font-weight="bold" font-size="11.21" stroke="#000" stroke-width="0.25">Sham-P0</text>
<text transform="translate(244.08 206.49) scale(1.081 1)" font-family="Liberation Serif" font-weight="bold" font-size="10.92" stroke="#000" stroke-width="0.25">Sham-P7</text>
<text transform="translate(426.40 207.39) scale(1.065 1)" font-family="Liberation Serif" font-weight="bold" font-size="10.78" stroke="#000" stroke-width="0.25">Sham-P14</text>
<text transform="translate(614.90 208.00) scale(1.107 1)" font-family="Liberation Serif" font-weight="bold" font-size="10.35" stroke="#000" stroke-width="0.25">Sham-P21</text>
<text x="69.52" y="421.88" font-family="Liberation Serif" font-weight="bold" font-size="11.70" stroke="#000" stroke-width="0.25">CCI-P0</text>
<text x="249.61" y="423.98" font-family="Liberation Serif" font-weight="bold" font-size="11.75" stroke="#000" stroke-width="0.25">CCI-P7</text>
<text x="439.63" y="425.49" font-family="Liberation Serif" font-weight="bold" font-size="11.45" stroke="#000" stroke-width="0.25">CCI-P14</text>
<text transform="translate(621.33 425.79) scale(1.070 1)" font-family="Liberation Serif" font-weight="bold" font-size="10.71" stroke="#000" stroke-width="0.25">CCI-P21</text>
<text transform="translate(30.58 39.69) scale(0.932 1)" font-family="Liberation Serif" font-weight="bold" font-size="20.62" stroke="#000" stroke-width="0.5">a</text>
<text transform="translate(35.56 277.61) scale(1.026 1)" font-family="Liberation Serif" font-weight="bold" font-size="19.01" stroke="#000" stroke-width="0.4">b</text>
<line x1="79.7" y1="524.0" x2="79.7" y2="765.1" stroke="#000" stroke-width="2.3"/>
<line x1="78.60000000000001" y1="764.0" x2="383.5" y2="764.0" stroke="#000" stroke-width="2.3"/>
<line x1="73.7" y1="525.0" x2="79.7" y2="525.0" stroke="#000" stroke-width="2.1"/>
<polygon points="55.50,530.50 55.50,517.34 54.08,517.34 53.42,518.28 52.25,519.38 50.75,520.30 50.75,521.96 52.08,521.22 53.50,520.12 53.50,530.50" fill="#000" stroke="#000" stroke-width="0.5" stroke-linejoin="miter"/>
<text transform="translate(58.52 530.50) scale(0.9066948768324014 1)" font-family="Liberation Sans" font-size="18.37" stroke="#000" stroke-width="0.7">.</text>
<text transform="translate(63.15 530.50) scale(0.9066948768324014 1)" font-family="Liberation Sans" font-size="18.37" stroke="#000" stroke-width="0.7">6</text>
<line x1="73.7" y1="572.8" x2="79.7" y2="572.8" stroke="#000" stroke-width="2.1"/>
<polygon points="55.25,578.30 55.25,565.14 53.83,565.14 53.17,566.08 52.00,567.18 50.50,568.10 50.50,569.76 51.83,569.02 53.25,567.92 53.25,578.30" fill="#000" stroke="#000" stroke-width="0.5" stroke-linejoin="miter"/>
<text transform="translate(58.27 578.30) scale(0.9066948768324014 1)" font-family="Liberation Sans" font-size="18.37" stroke="#000" stroke-width="0.7">.</text>
<text transform="translate(62.90 578.30) scale(0.9066948768324014 1)" font-family="Liberation Sans" font-size="18.37" stroke="#000" stroke-width="0.7">4</text>
<line x1="73.7" y1="620.4" x2="79.7" y2="620.4" stroke="#000" stroke-width="2.1"/>
<polygon points="55.62,625.90 55.62,612.74 54.21,612.74 53.54,613.68 52.37,614.78 50.87,615.70 50.87,617.36 52.21,616.62 53.62,615.52 53.62,625.90" fill="#000" stroke="#000" stroke-width="0.5" stroke-linejoin="miter"/>
<text transform="translate(58.64 625.90) scale(0.9066948768324014 1)" font-family="Liberation Sans" font-size="18.37" stroke="#000" stroke-width="0.7">.</text>
<text transform="translate(63.27 625.90) scale(0.9066948768324014 1)" font-family="Liberation Sans" font-size="18.37" stroke="#000" stroke-width="0.7">2</text>
<line x1="73.7" y1="668.0" x2="79.7" y2="668.0" stroke="#000" stroke-width="2.1"/>
<polygon points="55.41,673.50 55.41,660.34 54.00,660.34 53.33,661.28 52.17,662.38 50.67,663.30 50.67,664.96 52.00,664.22 53.42,663.12 53.42,673.50" fill="#000" stroke="#000" stroke-width="0.5" stroke-linejoin="miter"/>
<text transform="translate(58.43 673.50) scale(0.9066948768324014 1)" font-family="Liberation Sans" font-size="18.37" stroke="#000" stroke-width="0.7">.</text>
<text transform="translate(63.06 673.50) scale(0.9066948768324014 1)" font-family="Liberation Sans" font-size="18.37" stroke="#000" stroke-width="0.7">0</text>
<line x1="73.7" y1="715.8" x2="79.7" y2="715.8" stroke="#000" stroke-width="2.1"/>
<text transform="translate(49.25 721.30) scale(0.9066948768324014 1)" font-family="Liberation Sans" font-size="18.37" stroke="#000" stroke-width="0.7">0</text>
<text transform="translate(58.52 721.30) scale(0.9066948768324014 1)" font-family="Liberation Sans" font-size="18.37" stroke="#000" stroke-width="0.7">.</text>
<text transform="translate(63.15 721.30) scale(0.9066948768324014 1)" font-family="Liberation Sans" font-size="18.37" stroke="#000" stroke-width="0.7">8</text>
<line x1="73.7" y1="764.0" x2="79.7" y2="764.0" stroke="#000" stroke-width="2.1"/>
<text transform="translate(49.25 769.50) scale(0.9066948768324014 1)" font-family="Liberation Sans" font-size="18.37" stroke="#000" stroke-width="0.7">0</text>
<text transform="translate(58.52 769.50) scale(0.9066948768324014 1)" font-family="Liberation Sans" font-size="18.37" stroke="#000" stroke-width="0.7">.</text>
<text transform="translate(63.15 769.50) scale(0.9066948768324014 1)" font-family="Liberation Sans" font-size="18.37" stroke="#000" stroke-width="0.7">6</text>
<line x1="119.5" y1="764.0" x2="119.5" y2="771.0" stroke="#000" stroke-width="2.1"/>
<text x="114.38" y="795.06" font-family="Liberation Serif" font-weight="bold" font-size="24.30" >0</text>
<line x1="198.7" y1="764.0" x2="198.7" y2="771.0" stroke="#000" stroke-width="2.1"/>
<text transform="translate(192.52 795.30) scale(0.890 1)" font-family="Liberation Serif" font-weight="bold" font-size="25.04" >7</text>
<line x1="277.9" y1="764.0" x2="277.9" y2="771.0" stroke="#000" stroke-width="2.1"/>
<text transform="translate(263.18 795.30) scale(0.968 1)" font-family="Liberation Serif" font-weight="bold" font-size="24.85" >14</text>
<line x1="357.2" y1="764.0" x2="357.2" y2="771.0" stroke="#000" stroke-width="2.1"/>
<text transform="translate(347.28 795.30) scale(0.969 1)" font-family="Liberation Serif" font-weight="bold" font-size="24.75" >21</text>
<line x1="107.0" y1="801.8" x2="377.9" y2="801.8" stroke="#000" stroke-width="3"/>
<text x="142.29" y="826.80" font-family="Liberation Serif" font-weight="bold" font-size="27.73" >day after surgery</text>
<polyline points="119.7,706.0 198.7,713.0 277.9,713.0 357.2,705.5" fill="none" stroke="#000" stroke-width="2.1" stroke-linejoin="round"/>
<line x1="119.7" y1="697.0" x2="119.7" y2="714.0" stroke="#000" stroke-width="3"/>
<line x1="115.60000000000001" y1="698.1" x2="123.8" y2="698.1" stroke="#000" stroke-width="3.2"/>
<line x1="115.60000000000001" y1="712.9" x2="123.8" y2="712.9" stroke="#000" stroke-width="3.2"/>
<circle cx="119.7" cy="706.0" r="4.3" fill="#000"/>
<line x1="198.7" y1="702.4" x2="198.7" y2="724.4" stroke="#000" stroke-width="3"/>
<line x1="194.6" y1="703.5" x2="202.79999999999998" y2="703.5" stroke="#000" stroke-width="3.2"/>
<line x1="194.6" y1="723.3" x2="202.79999999999998" y2="723.3" stroke="#000" stroke-width="3.2"/>
<circle cx="198.7" cy="713.0" r="4.3" fill="#000"/>
<line x1="277.9" y1="696.4" x2="277.9" y2="730.6" stroke="#000" stroke-width="3"/>
<line x1="273.79999999999995" y1="697.5" x2="282.0" y2="697.5" stroke="#000" stroke-width="3.2"/>
<line x1="273.79999999999995" y1="729.5" x2="282.0" y2="729.5" stroke="#000" stroke-width="3.2"/>
<circle cx="277.9" cy="713.0" r="4.3" fill="#000"/>
<line x1="357.2" y1="689.5" x2="357.2" y2="722.0" stroke="#000" stroke-width="3"/>
<line x1="353.09999999999997" y1="690.6" x2="361.3" y2="690.6" stroke="#000" stroke-width="3.2"/>
<line x1="353.09999999999997" y1="720.9" x2="361.3" y2="720.9" stroke="#000" stroke-width="3.2"/>
<circle cx="357.2" cy="705.5" r="4.3" fill="#000"/>
<polyline points="119.7,710.0 198.7,616.9 277.9,613.0 357.2,635.0" fill="none" stroke="#000" stroke-width="2.1" stroke-linejoin="round"/>
<line x1="119.7" y1="703.0" x2="119.7" y2="716.3" stroke="#000" stroke-width="3"/>
<line x1="115.60000000000001" y1="704.1" x2="123.8" y2="704.1" stroke="#000" stroke-width="3.2"/>
<line x1="115.60000000000001" y1="715.1999999999999" x2="123.8" y2="715.1999999999999" stroke="#000" stroke-width="3.2"/>
<rect x="115.3" y="705.6" width="8.8" height="8.8" fill="#000"/>
<line x1="198.7" y1="595.0" x2="198.7" y2="638.2" stroke="#000" stroke-width="3"/>
<line x1="194.6" y1="596.1" x2="202.79999999999998" y2="596.1" stroke="#000" stroke-width="3.2"/>
<line x1="194.6" y1="637.1" x2="202.79999999999998" y2="637.1" stroke="#000" stroke-width="3.2"/>
<rect x="194.29999999999998" y="612.5" width="8.8" height="8.8" fill="#000"/>
<line x1="277.9" y1="584.2" x2="277.9" y2="642.0" stroke="#000" stroke-width="3"/>
<line x1="273.79999999999995" y1="585.3000000000001" x2="282.0" y2="585.3000000000001" stroke="#000" stroke-width="3.2"/>
<line x1="273.79999999999995" y1="640.9" x2="282.0" y2="640.9" stroke="#000" stroke-width="3.2"/>
<rect x="273.5" y="608.6" width="8.8" height="8.8" fill="#000"/>
<line x1="357.2" y1="599.0" x2="357.2" y2="671.5" stroke="#000" stroke-width="3"/>
<line x1="353.09999999999997" y1="600.1" x2="361.3" y2="600.1" stroke="#000" stroke-width="3.2"/>
<line x1="353.09999999999997" y1="670.4" x2="361.3" y2="670.4" stroke="#000" stroke-width="3.2"/>
<rect x="352.8" y="630.6" width="8.8" height="8.8" fill="#000"/>
<text transform="translate(194.55 595.30) scale(0.944 1)" font-family="Liberation Sans" font-weight="bold" font-size="22.55" >*</text>
<text transform="translate(273.95 584.70) scale(0.944 1)" font-family="Liberation Sans" font-weight="bold" font-size="22.55" >*</text>
<text transform="translate(353.05 602.30) scale(0.944 1)" font-family="Liberation Sans" font-weight="bold" font-size="22.55" >*</text>
<line x1="97.8" y1="516.3" x2="120.2" y2="516.3" stroke="#000" stroke-width="2.1"/>
<circle cx="108.8" cy="516.3" r="3.9" fill="#000"/>
<text transform="translate(132.06 521.82) scale(1.014 1)" font-family="Liberation Serif" font-weight="normal" font-size="18.16" stroke="#000" stroke-width="0.45">Sham</text>
<text transform="translate(175.95 522.15) scale(1.053 1)" font-family="Liberation Serif" font-weight="bold" font-size="15.76" >(n=10)</text>
<line x1="98.2" y1="541.8" x2="120.6" y2="541.8" stroke="#000" stroke-width="2.1"/>
<rect x="105.5" y="537.9" width="7.8" height="7.8" fill="#000"/>
<text transform="translate(133.15 547.82) scale(1.030 1)" font-family="Liberation Serif" font-weight="normal" font-size="18.29" stroke="#000" stroke-width="0.45">CCI</text>
<text transform="translate(175.92 547.72) scale(1.123 1)" font-family="Liberation Serif" font-weight="bold" font-size="15.43" >(n=9)</text>
<text transform="translate(17.3 649.1) rotate(-90)" text-anchor="middle" font-family="Liberation Serif" font-weight="bold" font-size="19">Glu/Cr</text>
<text transform="translate(44.7 649.0) rotate(-90)" text-anchor="middle" font-family="Liberation Serif" font-weight="bold" font-size="19.5">measured by <tspan font-size="12.5" dy="-8.5">1</tspan><tspan dy="8.5">H-MRS</tspan></text>
<text transform="translate(16.17 502.98) scale(1.091 1)" font-family="Liberation Serif" font-weight="bold" font-size="21.67" >c</text>
<line x1="474.8" y1="546.0" x2="474.8" y2="766.2" stroke="#000" stroke-width="2.3"/>
<line x1="473.7" y1="765.1" x2="748.0" y2="765.1" stroke="#000" stroke-width="2.3"/>
<line x1="468.8" y1="547.0" x2="474.8" y2="547.0" stroke="#000" stroke-width="2.1"/>
<text transform="translate(446.72 552.00) scale(0.8872040946896993 1)" font-family="Liberation Sans" font-size="16.96" stroke="#000" stroke-width="0.7">2</text>
<text transform="translate(455.09 552.00) scale(0.8872040946896993 1)" font-family="Liberation Sans" font-size="16.96" stroke="#000" stroke-width="0.7">.</text>
<text transform="translate(459.27 552.00) scale(0.8872040946896993 1)" font-family="Liberation Sans" font-size="16.96" stroke="#000" stroke-width="0.7">6</text>
<line x1="468.8" y1="591.25" x2="474.8" y2="591.25" stroke="#000" stroke-width="2.1"/>
<text transform="translate(446.50 596.25) scale(0.8872040946896993 1)" font-family="Liberation Sans" font-size="16.96" stroke="#000" stroke-width="0.7">2</text>
<text transform="translate(454.87 596.25) scale(0.8872040946896993 1)" font-family="Liberation Sans" font-size="16.96" stroke="#000" stroke-width="0.7">.</text>
<text transform="translate(459.05 596.25) scale(0.8872040946896993 1)" font-family="Liberation Sans" font-size="16.96" stroke="#000" stroke-width="0.7">4</text>
<line x1="468.8" y1="634.5" x2="474.8" y2="634.5" stroke="#000" stroke-width="2.1"/>
<text transform="translate(446.84 639.50) scale(0.8872040946896993 1)" font-family="Liberation Sans" font-size="16.96" stroke="#000" stroke-width="0.7">2</text>
<text transform="translate(455.20 639.50) scale(0.8872040946896993 1)" font-family="Liberation Sans" font-size="16.96" stroke="#000" stroke-width="0.7">.</text>
<text transform="translate(459.39 639.50) scale(0.8872040946896993 1)" font-family="Liberation Sans" font-size="16.96" stroke="#000" stroke-width="0.7">2</text>
<line x1="468.8" y1="678.2" x2="474.8" y2="678.2" stroke="#000" stroke-width="2.1"/>
<text transform="translate(446.65 683.20) scale(0.8872040946896993 1)" font-family="Liberation Sans" font-size="16.96" stroke="#000" stroke-width="0.7">2</text>
<text transform="translate(455.02 683.20) scale(0.8872040946896993 1)" font-family="Liberation Sans" font-size="16.96" stroke="#000" stroke-width="0.7">.</text>
<text transform="translate(459.20 683.20) scale(0.8872040946896993 1)" font-family="Liberation Sans" font-size="16.96" stroke="#000" stroke-width="0.7">0</text>
<line x1="468.8" y1="721.4" x2="474.8" y2="721.4" stroke="#000" stroke-width="2.1"/>
<polygon points="452.37,726.40 452.37,714.26 451.09,714.26 450.48,715.12 449.43,716.14 448.08,716.99 448.08,718.51 449.28,717.83 450.56,716.82 450.56,726.40" fill="#000" stroke="#000" stroke-width="0.5" stroke-linejoin="miter"/>
<text transform="translate(455.09 726.40) scale(0.8872040946896993 1)" font-family="Liberation Sans" font-size="16.96" stroke="#000" stroke-width="0.7">.</text>
<text transform="translate(459.27 726.40) scale(0.8872040946896993 1)" font-family="Liberation Sans" font-size="16.96" stroke="#000" stroke-width="0.7">8</text>
<line x1="468.8" y1="765.1" x2="474.8" y2="765.1" stroke="#000" stroke-width="2.1"/>
<polygon points="452.37,770.10 452.37,757.96 451.09,757.96 450.48,758.82 449.43,759.84 448.08,760.69 448.08,762.21 449.28,761.53 450.56,760.52 450.56,770.10" fill="#000" stroke="#000" stroke-width="0.5" stroke-linejoin="miter"/>
<text transform="translate(455.09 770.10) scale(0.8872040946896993 1)" font-family="Liberation Sans" font-size="16.96" stroke="#000" stroke-width="0.7">.</text>
<text transform="translate(459.27 770.10) scale(0.8872040946896993 1)" font-family="Liberation Sans" font-size="16.96" stroke="#000" stroke-width="0.7">6</text>
<line x1="512.2" y1="765.1" x2="512.2" y2="772.1" stroke="#000" stroke-width="2.1"/>
<text transform="translate(507.41 794.76) scale(0.984 1)" font-family="Liberation Serif" font-weight="bold" font-size="24.15" >0</text>
<line x1="586.9" y1="765.1" x2="586.9" y2="772.1" stroke="#000" stroke-width="2.1"/>
<text transform="translate(580.05 795.00) scale(0.876 1)" font-family="Liberation Serif" font-weight="bold" font-size="24.89" >7</text>
<line x1="661.2" y1="765.1" x2="661.2" y2="772.1" stroke="#000" stroke-width="2.1"/>
<text transform="translate(650.02 795.00) scale(0.951 1)" font-family="Liberation Serif" font-weight="bold" font-size="24.70" >14</text>
<line x1="735.5" y1="765.1" x2="735.5" y2="772.1" stroke="#000" stroke-width="2.1"/>
<text transform="translate(727.20 795.00) scale(0.952 1)" font-family="Liberation Serif" font-weight="bold" font-size="24.60" >21</text>
<line x1="499.5" y1="801.8" x2="748.0" y2="801.8" stroke="#000" stroke-width="3"/>
<text x="521.28" y="824.51" font-family="Liberation Serif" font-weight="bold" font-size="28.11" >day after surgery</text>
<polyline points="512.2,614.8 586.9,614.3 661.2,607.5 735.5,613.75" fill="none" stroke="#000" stroke-width="2.1" stroke-linejoin="round"/>
<line x1="512.2" y1="600.4" x2="512.2" y2="630.0" stroke="#000" stroke-width="3"/>
<line x1="508.1" y1="601.5" x2="516.3000000000001" y2="601.5" stroke="#000" stroke-width="3.2"/>
<line x1="508.1" y1="628.9" x2="516.3000000000001" y2="628.9" stroke="#000" stroke-width="3.2"/>
<circle cx="512.2" cy="614.8" r="4.3" fill="#000"/>
<line x1="586.9" y1="601.8" x2="586.9" y2="626.8" stroke="#000" stroke-width="3"/>
<line x1="582.8" y1="602.9" x2="591.0" y2="602.9" stroke="#000" stroke-width="3.2"/>
<line x1="582.8" y1="625.6999999999999" x2="591.0" y2="625.6999999999999" stroke="#000" stroke-width="3.2"/>
<circle cx="586.9" cy="614.3" r="4.3" fill="#000"/>
<line x1="661.2" y1="597.3" x2="661.2" y2="618.4" stroke="#000" stroke-width="3"/>
<line x1="657.1" y1="598.4" x2="665.3000000000001" y2="598.4" stroke="#000" stroke-width="3.2"/>
<line x1="657.1" y1="617.3" x2="665.3000000000001" y2="617.3" stroke="#000" stroke-width="3.2"/>
<circle cx="661.2" cy="607.5" r="4.3" fill="#000"/>
<line x1="735.5" y1="602.8" x2="735.5" y2="624.0" stroke="#000" stroke-width="3"/>
<line x1="731.4" y1="603.9" x2="739.6" y2="603.9" stroke="#000" stroke-width="3.2"/>
<line x1="731.4" y1="622.9" x2="739.6" y2="622.9" stroke="#000" stroke-width="3.2"/>
<circle cx="735.5" cy="613.75" r="4.3" fill="#000"/>
<polyline points="512.2,614.8 586.9,690.0 661.2,715.0 735.5,691.25" fill="none" stroke="#000" stroke-width="2.1" stroke-linejoin="round"/>
<line x1="512.2" y1="601.6" x2="512.2" y2="628.8" stroke="#000" stroke-width="3"/>
<line x1="508.1" y1="602.7" x2="516.3000000000001" y2="602.7" stroke="#000" stroke-width="3.2"/>
<line x1="508.1" y1="627.6999999999999" x2="516.3000000000001" y2="627.6999999999999" stroke="#000" stroke-width="3.2"/>
<rect x="507.80000000000007" y="610.4" width="8.8" height="8.8" fill="#000"/>
<line x1="586.9" y1="665.2" x2="586.9" y2="714.9" stroke="#000" stroke-width="3"/>
<line x1="582.8" y1="666.3000000000001" x2="591.0" y2="666.3000000000001" stroke="#000" stroke-width="3.2"/>
<line x1="582.8" y1="713.8" x2="591.0" y2="713.8" stroke="#000" stroke-width="3.2"/>
<rect x="582.5" y="685.6" width="8.8" height="8.8" fill="#000"/>
<line x1="661.2" y1="689.4" x2="661.2" y2="741.8" stroke="#000" stroke-width="3"/>
<line x1="657.1" y1="690.5" x2="665.3000000000001" y2="690.5" stroke="#000" stroke-width="3.2"/>
<line x1="657.1" y1="740.6999999999999" x2="665.3000000000001" y2="740.6999999999999" stroke="#000" stroke-width="3.2"/>
<rect x="656.8000000000001" y="710.6" width="8.8" height="8.8" fill="#000"/>
<line x1="735.5" y1="677.8" x2="735.5" y2="705.8" stroke="#000" stroke-width="3"/>
<line x1="731.4" y1="678.9" x2="739.6" y2="678.9" stroke="#000" stroke-width="3.2"/>
<line x1="731.4" y1="704.6999999999999" x2="739.6" y2="704.6999999999999" stroke="#000" stroke-width="3.2"/>
<rect x="731.1" y="686.85" width="8.8" height="8.8" fill="#000"/>
<text transform="translate(583.17 660.30) scale(0.941 1)" font-family="Liberation Serif" font-weight="bold" font-size="19.24" >#</text>
<text transform="translate(656.97 687.55) scale(0.941 1)" font-family="Liberation Serif" font-weight="bold" font-size="19.24" >#</text>
<text transform="translate(731.47 675.05) scale(0.941 1)" font-family="Liberation Serif" font-weight="bold" font-size="19.24" >#</text>
<line x1="486.1" y1="538.9" x2="507.6" y2="538.9" stroke="#000" stroke-width="2.1"/>
<circle cx="497.3" cy="538.9" r="3.9" fill="#000"/>
<text transform="translate(519.06 544.80) scale(0.982 1)" font-family="Liberation Serif" font-weight="normal" font-size="20.28" stroke="#000" stroke-width="0.45">Sham</text>
<text transform="translate(565.94 544.75) scale(0.954 1)" font-family="Liberation Serif" font-weight="bold" font-size="17.63" >(n=10)</text>
<line x1="486.5" y1="561.7" x2="507.6" y2="561.7" stroke="#000" stroke-width="2.1"/>
<rect x="493.1" y="557.8000000000001" width="7.8" height="7.8" fill="#000"/>
<text transform="translate(519.99 567.70) scale(1.022 1)" font-family="Liberation Serif" font-weight="normal" font-size="19.78" stroke="#000" stroke-width="0.45">CCI</text>
<text transform="translate(568.01 567.49) scale(1.065 1)" font-family="Liberation Serif" font-weight="bold" font-size="16.53" >(n=9)</text>
<text transform="translate(410.4 654.9) rotate(-90)" text-anchor="middle" font-family="Liberation Serif" font-weight="bold" font-size="20">NAA/Cr</text>
<text transform="translate(435.4 656.3) rotate(-90)" text-anchor="middle" font-family="Liberation Serif" font-weight="bold" font-size="20.3">measured by <tspan font-size="13" dy="-8">1</tspan><tspan dy="8">H-MRS</tspan></text>
<text x="446.78" y="510.84" font-family="Liberation Serif" font-weight="bold" font-size="24.18" >D</text>
</svg>
</body></html>
